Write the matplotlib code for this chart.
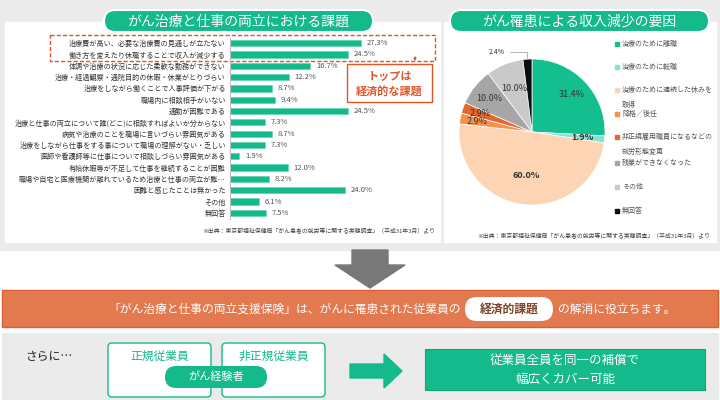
import matplotlib.pyplot as plt
from matplotlib.patches import Rectangle, FancyBboxPatch, Polygon
import numpy as np

plt.rcParams['font.family'] = ['Noto Sans CJK JP', 'DejaVu Sans']

# left chart: issues in balancing cancer treatment and work
issues = [
    '治療費が高い、必要な治療費の見通しが立たない',
    '働き方を変えたり休職することで収入が減少する',
    '体調や治療の状況に応じた柔軟な勤務ができない',
    '治療・経過観察・通院目的の休暇・休業がとりづらい',
    '治療をしながら働くことで人事評価が下がる',
    '職場内に相談相手がいない',
    '通勤が困難である',
    '治療と仕事の両立について誰(どこ)に相談すればよいか分からない',
    '病気や治療のことを職場に言いづらい雰囲気がある',
    '治療をしながら仕事をする事について職場の理解がない・乏しい',
    '医師や看護師等に仕事について相談しづらい雰囲気がある',
    '有給休暇等が不足して仕事を継続することが困難',
    '職場や自宅と医療機関が離れているため治療と仕事の両立が難…',
    '困難と感じたことは無かった',
    'その他',
    '無回答',
]
issue_pct = [27.3, 24.5, 16.7, 12.2, 8.7, 9.4, 24.5, 7.3, 8.7, 7.3, 1.9, 12.0, 8.2, 24.0, 6.1, 7.5]

# right chart: causes of income decrease
causes = [
    '治療のために離職',
    '治療のために転職',
    '治療のために連続した休みを\n取得',
    '降格／後任',
    '非正規雇用職員になるなどの\n就労形態変更',
    '残業ができなくなった',
    'その他',
    '無回答',
]
cause_pct = [31.4, 1.9, 60.0, 2.9, 2.9, 10.0, 10.0, 2.4]
cause_colors = ['#13bf8f', '#84e3d3', '#fdd5b4', '#f7904f', '#e3672f', '#a6a6a6', '#c9c9c9', '#0d0d0d']

source = '※出典：東京都福祉保健局「がん患者の就労等に関する実態調査」（平成31年3月）より'

GREEN = '#14b98c'
RED = '#e0552a'

fig = plt.figure(figsize=(7.2, 4), dpi=100)
bg = fig.add_axes([0, 0, 1, 1])
bg.set_xlim(0, 720)
bg.set_ylim(400, 0)
bg.axis('off')


def px_axes(x0, y0, x1, y1):
    return fig.add_axes([x0 / 720, 1 - y1 / 400, (x1 - x0) / 720, (y1 - y0) / 400])


# backgrounds
bg.add_patch(Rectangle((0, 0), 720, 250, color='#ebebeb', zorder=0))
bg.add_patch(Rectangle((5, 22), 435, 220, color='white', zorder=1))
bg.add_patch(Rectangle((444, 22), 272, 220, color='white', zorder=1))

# title pills
for x0, x1, title in [(104, 373, 'がん治療と仕事の両立における課題'),
                      (450, 709, 'がん罹患による収入減少の要因')]:
    bg.add_patch(FancyBboxPatch((x0, 10), x1 - x0, 22, boxstyle='round,pad=0,rounding_size=11',
                                facecolor=GREEN, edgecolor='white', lw=1.5, zorder=3))
    bg.text((x0 + x1) / 2, 21.5, title, color='white', fontsize=10, ha='center', va='center', zorder=4)

# bar chart
ax = px_axes(230, 37.5, 430, 218.5)
ax.set_facecolor('none')
ypos = np.arange(len(issues))
ax.barh(ypos, issue_pct, height=0.55, color=GREEN, edgecolor='#5fd3ad', lw=0.4)
for y, v in zip(ypos, issue_pct):
    ax.text(v + 1.2, y, f'{v}%', va='center', fontsize=5.5, color='#555555')
ax.set_ylim(len(issues) - 0.5, -0.5)
ax.set_xlim(0, 41.67)
ax.set_yticks(ypos)
ax.set_yticklabels(issues, fontsize=5.1, color='#333333')
ax.tick_params(axis='y', length=0, pad=3)
ax.set_xticks([])
for s in ['top', 'right', 'bottom']:
    ax.spines[s].set_visible(False)
ax.spines['left'].set_color('#bfbfbf')
ax.spines['left'].set_linewidth(0.8)

# highlight box + callout
bg.add_patch(Rectangle((50, 35), 385, 25.5, fill=False, edgecolor=RED, ls=(0, (3, 1.5)), lw=1, zorder=5))
bg.annotate('', xy=(415, 64), xytext=(415, 54),
            arrowprops=dict(arrowstyle='-|>', color=RED, lw=0.8, mutation_scale=4), zorder=5)
bg.add_patch(Rectangle((347, 64), 85, 38, facecolor='white', edgecolor=RED, lw=1, zorder=5))
bg.text(389.5, 76.5, 'トップは', color=RED, fontsize=8, fontweight='bold', ha='center', va='center', zorder=6)
bg.text(389.5, 92, '経済的な課題', color=RED, fontsize=8, fontweight='bold', ha='center', va='center', zorder=6)

bg.text(435, 231, source, fontsize=4.2, color='#444444', ha='right', va='center', zorder=3)
bg.text(710, 236, source, fontsize=4.2, color='#444444', ha='right', va='center', zorder=3)

# pie chart
pax = px_axes(459, 59, 605, 205)
wedges, _ = pax.pie(cause_pct, colors=cause_colors, startangle=90, counterclock=False,
                    wedgeprops=dict(edgecolor='white', lw=0.5))
pax.set_xlim(-1, 1)
pax.set_ylim(-1, 1)
label_r = [0.74, 0.7, 0.6, 0.77, 0.75, 0.74, 0.64, None]
label_bold = [False, True, True, False, False, False, False, False]
for w, v, r, b in zip(wedges, cause_pct, label_r, label_bold):
    mid = np.deg2rad((w.theta1 + w.theta2) / 2)
    if r is None:
        pax.annotate(f'{v}%', xy=(np.cos(mid), np.sin(mid) * 0.98), xytext=(-0.38, 1.1),
                     fontsize=5, color='#333333', ha='right', va='center',
                     arrowprops=dict(arrowstyle='-', color='#999999', lw=0.5,
                                     connectionstyle='angle,angleA=0,angleB=90,rad=0'),
                     annotation_clip=False)
        continue
    pax.text(r * np.cos(mid), r * np.sin(mid), f'{v}%', fontsize=6.5, color='#333333',
             ha='center', va='center', fontweight='bold' if b else 'normal')

# legend
legend_y = [44, 67, 90, 114, 137, 163, 187, 211]
for y, c, lab in zip(legend_y, cause_colors, causes):
    bg.add_patch(Rectangle((615, y - 2), 4, 4, color=c, zorder=3))
    bg.text(622, y - 4, lab, fontsize=5, color='#555555', ha='left', va='top',
            linespacing=2.1, zorder=3)

# down arrow
bg.add_patch(Polygon([(352, 250), (388, 250), (388, 265), (405, 265), (370, 288), (335, 265), (352, 265)],
                     closed=True, color='#787878', zorder=3))

# orange banner
bg.add_patch(Rectangle((2, 290), 716, 37, facecolor='#e37a4f', edgecolor='#d9602f', lw=1, zorder=2))
bg.text(461, 309, '「がん治療と仕事の両立支援保険」は、がんに罹患された従業員の', color='white',
        fontsize=8.5, ha='right', va='center', zorder=3)
bg.add_patch(FancyBboxPatch((465, 297), 88, 24, boxstyle='round,pad=0,rounding_size=12',
                            facecolor='white', edgecolor='none', zorder=3))
bg.text(509, 309, '経済的課題', color='#7a4228', fontsize=8.5, fontweight='bold',
        ha='center', va='center', zorder=4)
bg.text(558, 309, 'の解消に役立ちます。', color='white', fontsize=8.5, ha='left', va='center', zorder=3)

# bottom section
bg.add_patch(Rectangle((2, 333), 716, 67, color='#ebebeb', zorder=1))
bg.text(25, 356, 'さらに…', fontsize=8.5, color='#222222', ha='left', va='center', zorder=3)
for x0, lab in [(108, '正規従業員'), (222, '非正規従業員')]:
    bg.add_patch(FancyBboxPatch((x0, 343), 103, 54, boxstyle='round,pad=0,rounding_size=4',
                                facecolor='white', edgecolor=GREEN, lw=1, zorder=2))
    bg.text(x0 + 51.5, 356, lab, color=GREEN, fontsize=8.5, ha='center', va='center', zorder=3)
bg.add_patch(FancyBboxPatch((165, 366), 102, 22, boxstyle='round,pad=0,rounding_size=11',
                            facecolor=GREEN, edgecolor='none', zorder=4))
bg.text(216, 377, 'がん経験者', color='white', fontsize=8, ha='center', va='center', zorder=5)

bg.add_patch(Polygon([(350, 364), (384, 364), (384, 354), (402, 371), (384, 388), (384, 378), (350, 378)],
                     closed=True, color=GREEN, zorder=3))
bg.add_patch(Rectangle((425, 349), 280, 41, facecolor=GREEN, edgecolor='#0fa67b', lw=0.8, zorder=3))
bg.text(565, 360, '従業員全員を同一の補償で', color='white', fontsize=9, ha='center', va='center', zorder=4)
bg.text(565, 380, '幅広くカバー可能', color='white', fontsize=9, ha='center', va='center', zorder=4)

fig.savefig('out.png', dpi=100)
